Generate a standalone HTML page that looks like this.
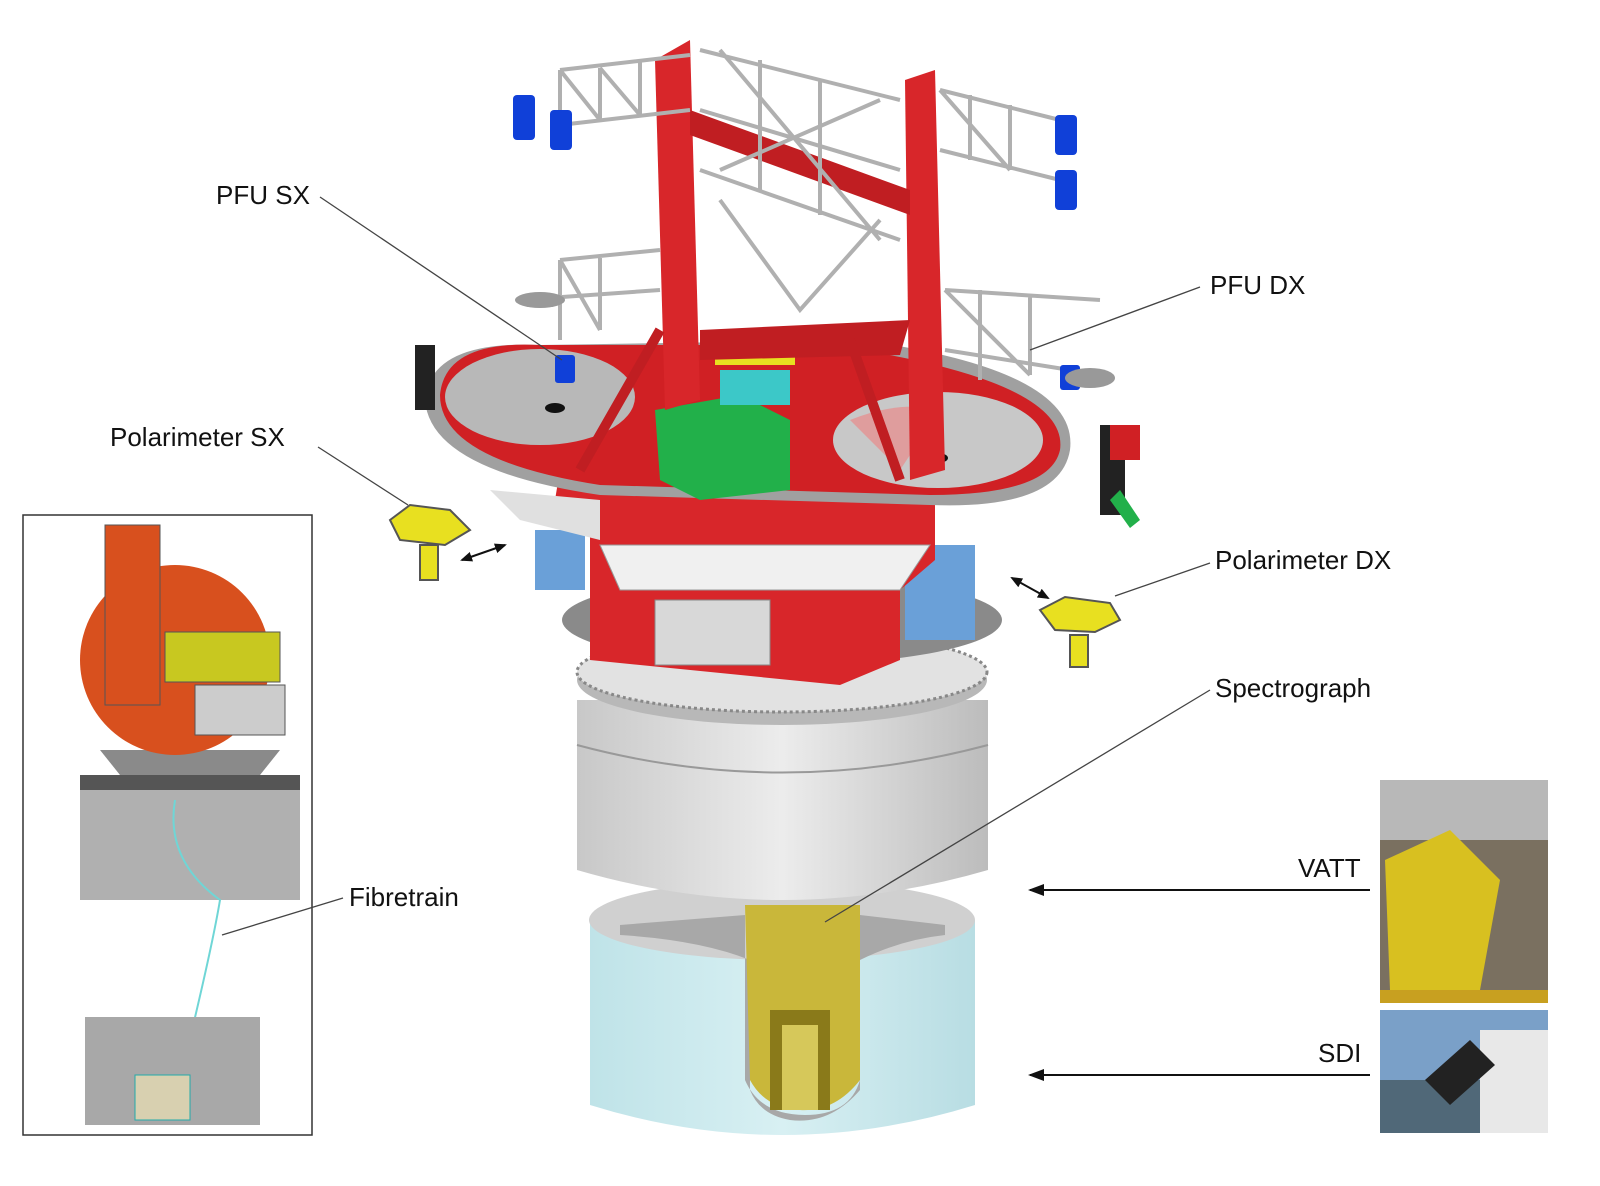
<!DOCTYPE html>
<html><head><meta charset="utf-8"><style>
body{margin:0;background:#fff;}
svg{display:block}
text{font-family:"Liberation Sans",sans-serif;font-size:26px;fill:#111}
</style></head><body>
<svg width="1600" height="1186" viewBox="0 0 1600 1186" xmlns="http://www.w3.org/2000/svg">
<defs>
<marker id="ah" markerUnits="userSpaceOnUse" markerWidth="16" markerHeight="12" refX="14" refY="6" orient="auto"><path d="M0,0 L16,6 L0,12 z" fill="#111"/></marker>
<marker id="ah2" markerUnits="userSpaceOnUse" markerWidth="12" markerHeight="10" refX="10" refY="5" orient="auto-start-reverse"><path d="M0,0 L12,5 L0,10 z" fill="#111"/></marker>
<linearGradient id="cyl" x1="0" x2="1"><stop offset="0" stop-color="#c8c8c8"/><stop offset="0.5" stop-color="#ececec"/><stop offset="1" stop-color="#bcbcbc"/></linearGradient>
<linearGradient id="cyan" x1="0" x2="1"><stop offset="0" stop-color="#bfe3e8"/><stop offset="0.5" stop-color="#d8f0f3"/><stop offset="1" stop-color="#b8dde3"/></linearGradient>
</defs>

<path d="M590,920 L590,1105 Q782,1165 975,1105 L975,920 Z" fill="url(#cyan)"/>
<ellipse cx="782" cy="920" rx="193" ry="40" fill="#d0d0d0"/>
<path d="M620,925 L745,915 L745,1080 Q760,1115 805,1115 Q850,1115 860,1080 L860,915 L945,925 L945,935 Q900,940 860,960 L860,1090 Q830,1125 790,1120 Q760,1115 750,1090 L750,960 Q700,940 620,935 Z" fill="#a8a8a8"/>
<path d="M745,905 L860,905 L860,1080 Q835,1112 800,1110 Q765,1108 750,1080 Z" fill="#c9b73a"/>
<rect x="770" y="1010" width="60" height="100" fill="#8a7a1a"/>
<rect x="782" y="1025" width="36" height="85" fill="#d6c85a"/>
<path d="M577,700 L577,870 Q782,930 988,870 L988,700 Z" fill="url(#cyl)"/>
<path d="M577,745 Q782,800 988,745" stroke="#999" fill="none" stroke-width="2"/>
<ellipse cx="782" cy="680" rx="205" ry="45" fill="#b8b8b8"/>
<ellipse cx="782" cy="672" rx="205" ry="40" fill="#e2e2e2" stroke="#888" stroke-width="3" stroke-dasharray="3,3"/>
<ellipse cx="782" cy="620" rx="220" ry="45" fill="#8a8a8a"/>
<rect x="535" y="530" width="50" height="60" fill="#6aa0d8"/>
<rect x="905" y="545" width="70" height="95" fill="#6aa0d8"/>
<path d="M555,500 L590,500 L590,660 L840,685 L900,660 L900,590 L935,560 L935,500 L560,470 Z" fill="#d8262a"/>
<rect x="655" y="600" width="115" height="65" fill="#d8d8d8" stroke="#888"/>
<path d="M600,545 L930,545 L900,590 L620,590 Z" fill="#f0f0f0" stroke="#999"/>
<path d="M490,490 L600,500 L600,540 L520,520 Z" fill="#e0e0e0"/>
<path d="M425,400 Q430,340 540,345 L860,340 Q1080,370 1070,450 Q1060,510 930,505 L600,495 Q430,470 425,400 Z" fill="#a0a0a0"/>
<path d="M440,395 Q445,340 540,345 L830,345 Q1070,380 1060,450 Q1050,495 930,495 L600,485 Q440,460 440,395 Z" fill="#d02024"/>
<ellipse cx="540" cy="397" rx="95" ry="48" fill="#b8b8b8"/>
<ellipse cx="938" cy="440" rx="105" ry="48" fill="#c8c8c8"/>
<path d="M850,420 Q900,400 940,410 L900,470 Z" fill="#e88a8a" opacity=".7"/>
<ellipse cx="555" cy="408" rx="10" ry="5" fill="#111"/>
<ellipse cx="938" cy="458" rx="10" ry="5" fill="#111"/>
<path d="M655,410 L740,395 L790,420 L790,490 L700,500 L660,480 Z" fill="#22b04a"/>
<rect x="720" y="370" width="70" height="35" fill="#3cc8c8"/>
<rect x="715" y="330" width="80" height="35" fill="#e8e020"/>
<path d="M655,60 L690,40 L700,400 L665,410 Z" fill="#d8262a"/>
<path d="M905,80 L935,70 L945,470 L910,480 Z" fill="#d8262a"/>
<path d="M690,110 L910,190 L910,215 L690,135 Z" fill="#c01e22"/>
<path d="M700,330 L910,320 L900,355 L700,360 Z" fill="#c01e22"/>
<path d="M580,470 L660,330 M850,340 L900,480" stroke="#c01e22" stroke-width="10"/>
<g stroke="#b0b0b0" stroke-width="4" fill="none">
<path d="M560,70 L690,55 M560,125 L690,110 M560,70 L560,125 M600,68 L600,120 M640,62 L640,115 M560,70 L600,120 M600,68 L640,115"/>
<path d="M700,50 L900,100 M700,110 L900,170 M700,170 L900,240 M720,50 L880,240 M880,100 L720,170 M760,60 L760,190 M820,80 L820,215"/>
<path d="M940,90 L1060,120 M940,150 L1060,180 M970,95 L970,160 M1010,105 L1010,170 M940,90 L1010,170"/>
<path d="M520,300 L660,290 M560,260 L660,250 M560,260 L560,340 M600,258 L600,330 M560,260 L600,330"/>
<path d="M945,290 L1100,300 M945,350 L1070,370 M980,290 L980,380 M1030,295 L1030,375 M945,290 L1030,375"/>
<path d="M720,200 L800,310 L880,220"/>
</g>
<g fill="#1040d8">
<rect x="513" y="95" width="22" height="45" rx="4"/><rect x="550" y="110" width="22" height="40" rx="4"/>
<rect x="1055" y="115" width="22" height="40" rx="4"/><rect x="1055" y="170" width="22" height="40" rx="4"/>
<rect x="555" y="355" width="20" height="28" rx="3"/><rect x="1060" y="365" width="20" height="25" rx="3"/>
</g>
<ellipse cx="540" cy="300" rx="25" ry="8" fill="#999"/>
<ellipse cx="1090" cy="378" rx="25" ry="10" fill="#999"/>
<rect x="415" y="345" width="20" height="65" fill="#222"/><rect x="1100" y="425" width="25" height="90" fill="#222"/>
<rect x="1110" y="425" width="30" height="35" fill="#d02024"/>
<path d="M1120,490 L1140,520 L1130,528 L1110,500 Z" fill="#22b04a"/>
<g fill="#e8e020" stroke="#555" stroke-width="2">
<path d="M390,520 L410,505 L450,510 L470,530 L445,545 L400,540 Z"/>
<rect x="420" y="545" width="18" height="35"/>
<path d="M1040,610 L1065,597 L1110,603 L1120,620 L1095,632 L1055,630 Z"/>
<rect x="1070" y="635" width="18" height="32"/>
</g>
<path d="M462,560 L505,545" stroke="#111" stroke-width="2" marker-end="url(#ah2)" marker-start="url(#ah2)"/>
<path d="M1012,578 L1048,598" stroke="#111" stroke-width="2" marker-end="url(#ah2)" marker-start="url(#ah2)"/>

<rect x="23" y="515" width="289" height="620" fill="#fff" stroke="#333" stroke-width="1.5"/>
<path d="M80,785 L300,785 L300,900 L80,900 Z" fill="#b0b0b0"/>
<rect x="80" y="775" width="220" height="15" fill="#555"/>
<path d="M100,750 L280,750 L260,775 L120,775 Z" fill="#8a8a8a"/>
<circle cx="175" cy="660" r="95" fill="#d8501e"/>
<rect x="105" y="525" width="55" height="180" fill="#d8501e" stroke="#555"/>
<rect x="165" y="632" width="115" height="50" fill="#c8c820" stroke="#555"/>
<rect x="195" y="685" width="90" height="50" fill="#ccc" stroke="#555"/>
<path d="M175,800 Q165,860 220,900 Q210,960 170,1120" stroke="#6fd6d6" stroke-width="2" fill="none"/>
<rect x="85" y="1017" width="175" height="108" fill="#a8a8a8"/>
<rect x="135" y="1075" width="55" height="45" fill="#d8d0b0" stroke="#2aa"/>

<rect x="1380" y="780" width="168" height="223" fill="#7a7060"/>
<rect x="1380" y="780" width="168" height="60" fill="#b8b8b8"/>
<path d="M1385,860 L1450,830 L1500,880 L1480,990 L1390,990 Z" fill="#d8c020"/>
<rect x="1380" y="990" width="168" height="13" fill="#c8a020"/>
<rect x="1380" y="1010" width="168" height="123" fill="#7aa0c8"/>
<rect x="1380" y="1080" width="168" height="53" fill="#506878"/>
<rect x="1480" y="1030" width="68" height="103" fill="#e8e8e8"/>
<path d="M1425,1080 L1470,1040 L1495,1065 L1450,1105 Z" fill="#222"/>

<g stroke="#444" stroke-width="1.3" fill="none">
<path d="M320,197 L562,360"/>
<path d="M1200,287 L1030,350"/>
<path d="M318,447 L408,505"/>
<path d="M1210,563 L1115,596"/>
<path d="M1210,690 L825,922"/>
<path d="M343,898 L222,935"/>
</g>
<path d="M1370,890 L1030,890" stroke="#111" stroke-width="2" marker-end="url(#ah)"/>
<path d="M1370,1075 L1030,1075" stroke="#111" stroke-width="2" marker-end="url(#ah)"/>

<text x="216" y="204">PFU SX</text>
<text x="1210" y="294">PFU DX</text>
<text x="110" y="446">Polarimeter SX</text>
<text x="1215" y="569">Polarimeter DX</text>
<text x="1215" y="697">Spectrograph</text>
<text x="349" y="906">Fibretrain</text>
<text x="1298" y="877">VATT</text>
<text x="1318" y="1062">SDI</text>
</svg>
</body></html>
